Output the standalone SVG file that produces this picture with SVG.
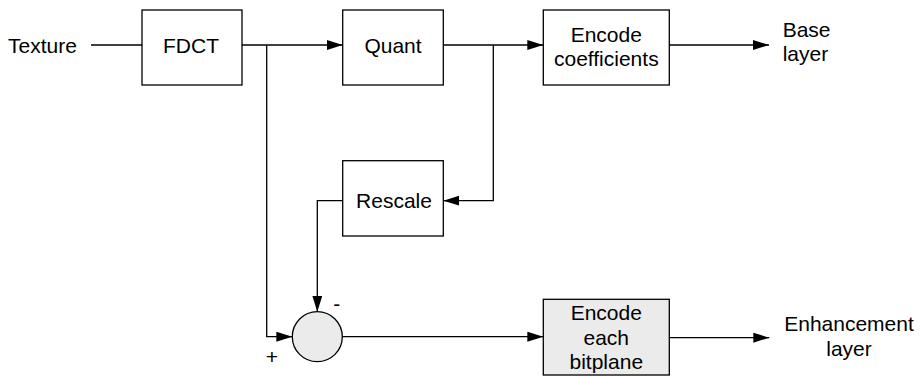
<svg xmlns="http://www.w3.org/2000/svg" width="921" height="377" viewBox="0 0 921 377">
<style>
  .box { fill: #ffffff; stroke: #000; stroke-width: 1.3; }
  .gray { fill: #ebebeb; stroke: #000; stroke-width: 1.3; }
  .wire { fill: none; stroke: #000; stroke-width: 1.3; }
  text { font-family: "Liberation Sans", Arial, sans-serif; font-size: 21px; fill: #000; }
  .c { text-anchor: middle; }
</style>
<defs>
  <marker id="arr" markerUnits="userSpaceOnUse" markerWidth="17" markerHeight="12" refX="16" refY="5" orient="auto">
    <path d="M0,0 L16,5 L0,10 Z" fill="#000"/>
  </marker>
</defs>
<rect width="921" height="377" fill="#fff"/>
<g id="connectors">
  <path class="wire" d="M91,45 H142"/>
  <path class="wire" d="M242,45 H342.7" marker-end="url(#arr)"/>
  <path class="wire" d="M443.3,45 H543.3" marker-end="url(#arr)"/>
  <path class="wire" d="M669.3,45 H769" marker-end="url(#arr)"/>
  <path class="wire" d="M493.3,45 V200.7 H443.3" marker-end="url(#arr)"/>
  <path class="wire" d="M342.7,200.7 H317.3 V311.7" marker-end="url(#arr)"/>
  <path class="wire" d="M266.7,45 V336.7 H292.3" marker-end="url(#arr)"/>
  <path class="wire" d="M342.3,336.7 H543.3" marker-end="url(#arr)"/>
  <path class="wire" d="M669.3,337.7 H769.3" marker-end="url(#arr)"/>
</g>
<g id="texture"><text x="8" y="52.5">Texture</text></g>
<g id="fdct">
  <rect class="box" x="142" y="10" width="100" height="75"/>
  <text class="c" x="191" y="52.5">FDCT</text>
</g>
<g id="quant">
  <rect class="box" x="342.7" y="10" width="100.6" height="75"/>
  <text class="c" x="393" y="53">Quant</text>
</g>
<g id="encode-coefficients">
  <rect class="box" x="543.3" y="10" width="126" height="75"/>
  <text class="c" x="606.3" y="41.5">Encode</text>
  <text class="c" x="606.3" y="66">coefficients</text>
</g>
<g id="base-layer">
  <text x="782.7" y="36.5">Base</text>
  <text x="782.7" y="61">layer</text>
</g>
<g id="rescale">
  <rect class="box" x="342.7" y="160.7" width="100.6" height="75.3"/>
  <text class="c" x="394" y="207.5">Rescale</text>
</g>
<g id="sum">
  <circle class="gray" cx="317.3" cy="336.7" r="25"/>
  <text class="c" x="336.7" y="311">-</text>
  <text class="c" x="272" y="363.5">+</text>
</g>
<g id="encode-bitplane">
  <rect class="gray" x="543.3" y="299.3" width="126" height="75.7"/>
  <text class="c" x="606.3" y="320">Encode</text>
  <text class="c" x="606.3" y="344.5">each</text>
  <text class="c" x="606.3" y="369">bitplane</text>
</g>
<g id="enhancement-layer">
  <text class="c" x="849" y="331">Enhancement</text>
  <text class="c" x="849" y="356">layer</text>
</g>
</svg>
